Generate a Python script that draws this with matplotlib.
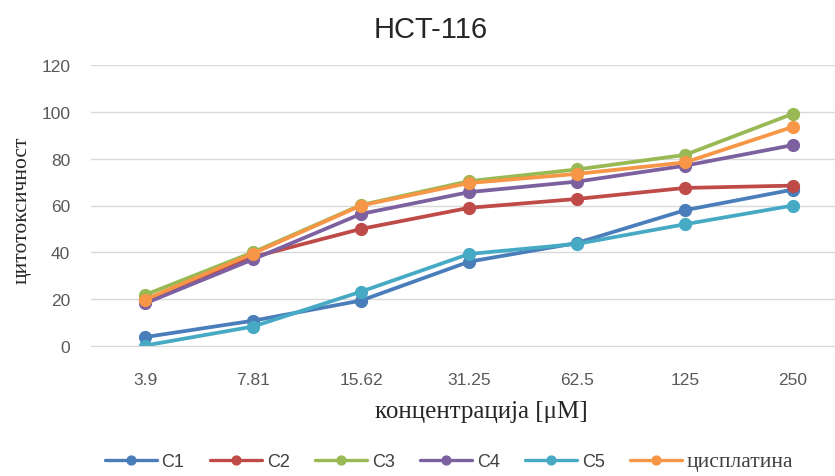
import matplotlib.pyplot as plt

# ==========================================
# Data
# ==========================================

concentrations = ["3.9", "7.81", "15.62", "31.25", "62.5", "125", "250"]

c1 = [3.8, 10.8, 19.4, 36.0, 44.0, 58.0, 66.8]
c2 = [19.5, 38.0, 50.0, 59.0, 62.8, 67.5, 68.5]
c3 = [21.8, 40.0, 60.2, 70.4, 75.4, 81.6, 99.2]
c4 = [18.2, 37.0, 56.4, 65.7, 70.2, 77.0, 85.8]
c5 = [0.2, 8.3, 23.2, 39.3, 43.6, 52.0, 60.0]
cisplatin = [19.8, 39.5, 60.0, 69.6, 73.5, 78.4, 93.6]

series = [
    ("C1", c1, "#4a7ebb"),
    ("C2", c2, "#be4b48"),
    ("C3", c3, "#98b954"),
    ("C4", c4, "#7d60a0"),
    ("C5", c5, "#46aac5"),
    ("цисплатина", cisplatin, "#f69646"),
]

# ==========================================
# Figure
# ==========================================

W, H = 835, 477
fig = plt.figure(figsize=(W / 100, H / 100), dpi=100)

# plot area in pixels: left 91, y=0 at 347, y=120 at 66, 108 px per category
ax = fig.add_axes([91 / W, (H - 347) / H, 756 / W, (347 - 66) / H])

x = list(range(len(concentrations)))
for name, values, color in series:
    ax.plot(x, values, color=color, linewidth=2.7, marker="o",
            markersize=8.5, label=name, solid_capstyle="round")

ax.set_xlim(-0.5, len(concentrations) - 0.5)
ax.set_ylim(0, 120)
ax.set_yticks(range(0, 121, 20))
ax.set_xticks(x)
ax.set_xticklabels(concentrations)

ax.grid(axis="y", color="#d9d9d9", linewidth=1)
ax.set_axisbelow(True)
for side in ["left", "right", "top"]:
    ax.spines[side].set_visible(False)
ax.spines["bottom"].set_color("#d9d9d9")
ax.tick_params(length=0, labelsize=12.5, labelcolor="#595959")
ax.tick_params(axis="y", pad=15)
ax.tick_params(axis="x", pad=19)
for lbl in ax.get_xticklabels() + ax.get_yticklabels():
    lbl.set_fontfamily("Liberation Sans")

# ==========================================
# Texts
# ==========================================

fig.text(431 / W, 1 - 30 / H, "HCT-116", ha="center", va="center",
         fontsize=21, family="Liberation Sans", color="#262626")

fig.text(481 / W, 1 - 412 / H, "концентрација [μM]", ha="center",
         va="center", fontsize=18, family="Liberation Serif", color="#262626")

fig.text(22 / W, 1 - 210 / H, "цитотоксичност", ha="center", va="center",
         rotation=90, fontsize=15.5, family="Liberation Serif", color="#262626")

leg = fig.legend(loc="center", bbox_to_anchor=(449 / W, 1 - 463 / H), ncol=6,
                 frameon=False, prop={"family": "Liberation Sans", "size": 13},
                 handlelength=2.9, handletextpad=0.25, columnspacing=1.4,
                 markerscale=0.75, labelcolor="#404040")
for line in leg.get_lines():
    line.set_linewidth(2.4)
leg.get_texts()[-1].set_fontfamily("Liberation Serif")
leg.get_texts()[-1].set_fontsize(15.5)

plt.savefig("out.png", dpi=100)
